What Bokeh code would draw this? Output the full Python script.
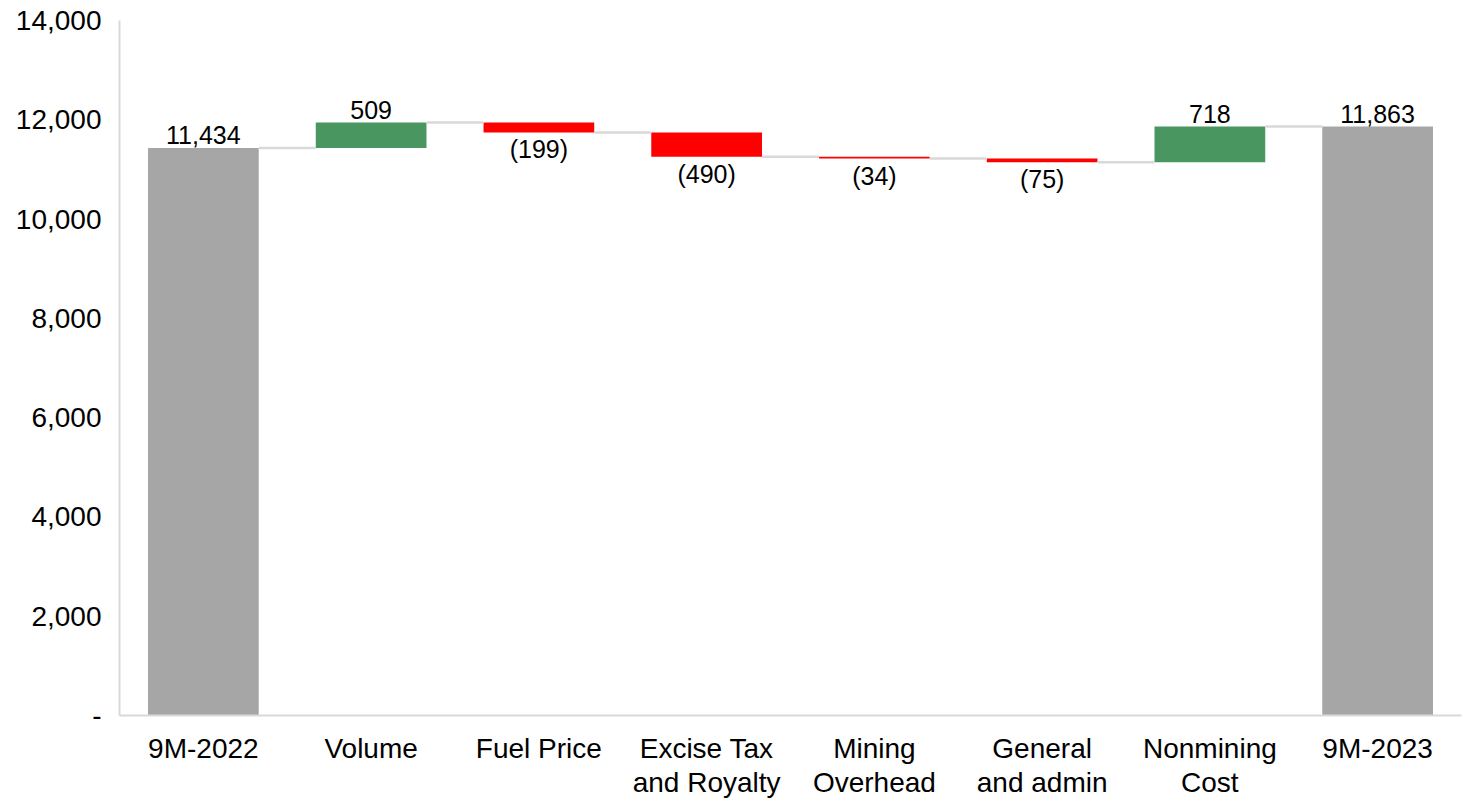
from bokeh.plotting import figure
from bokeh.models import Range1d, FixedTicker, NumeralTickFormatter, ColumnDataSource
from bokeh.core.properties import value
from bokeh.embed import file_html
from bokeh.resources import INLINE

categories = ["9M-2022", "Volume", "Fuel Price", "Excise Tax\nand Royalty",
              "Mining\nOverhead", "General\nand admin", "Nonmining\nCost", "9M-2023"]
values = [11434, 509, -199, -490, -34, -75, 718, 11863]
is_total = [True, False, False, False, False, False, False, True]
y_ticks = [0, 2000, 4000, 6000, 8000, 10000, 12000, 14000]

FONT = "Liberation Sans"
GREY = "#a6a6a6"
GREEN = "#4a9660"
RED = "#ff0000"
LINE = "#d9d9d9"
BW = 0.66

xs, bottoms, tops, colors, labels = [], [], [], [], []
run = 0
ends = []
for i, (v, t) in enumerate(zip(values, is_total)):
    if t:
        b, tp = 0, v
        run = v
        c = GREY
    else:
        b, tp = (run, run + v) if v >= 0 else (run + v, run)
        run = run + v
        c = GREEN if v >= 0 else RED
    xs.append(i)
    bottoms.append(b)
    tops.append(tp)
    colors.append(c)
    labels.append(f"{v:,}" if v >= 0 else f"({abs(v):,})")
    ends.append(run)

p = figure(width=1465, height=800, output_backend="svg", toolbar_location=None,
           x_range=Range1d(-0.5, 7.5), y_range=Range1d(0, 14000),
           min_border_left=119, min_border_right=4, min_border_top=20, min_border_bottom=85)
p.outline_line_color = None
p.xgrid.visible = False
p.ygrid.visible = False

src = ColumnDataSource(dict(x=xs, bottom=bottoms, top=tops, color=colors))
p.vbar(x="x", bottom="bottom", top="top", width=BW, fill_color="color", line_color=None, source=src)

# connectors
cx0 = [i + BW / 2 for i in xs[:-1]]
cx1 = [i + 1 - BW / 2 for i in xs[:-1]]
p.segment(x0=cx0, x1=cx1, y0=ends[:-1], y1=ends[:-1], line_color=LINE, line_width=2.5)

# labels
up_x, up_y, up_t, dn_x, dn_y, dn_t = [], [], [], [], [], []
for i, v in enumerate(values):
    if v >= 0:
        up_x.append(i); up_y.append(tops[i]); up_t.append(labels[i])
    else:
        dn_x.append(i); dn_y.append(bottoms[i]); dn_t.append(labels[i])
p.text(x=up_x, y=up_y, text=up_t, text_align="center", text_baseline="bottom", y_offset=-4,
       text_font=value(FONT), text_font_size="25px", text_color="#000000")
p.text(x=dn_x, y=dn_y, text=dn_t, text_align="center", text_baseline="top", y_offset=3,
       text_font=value(FONT), text_font_size="25px", text_color="#000000")

p.xaxis.ticker = FixedTicker(ticks=xs)
p.xaxis.major_label_overrides = {i: c for i, c in enumerate(categories)}
p.yaxis.ticker = FixedTicker(ticks=y_ticks)
p.yaxis.formatter = NumeralTickFormatter(format="0,0")
p.yaxis.major_label_overrides = {0: "-"}

for ax in (p.xaxis[0], p.yaxis[0]):
    ax.axis_line_color = LINE
    ax.axis_line_width = 2
    ax.major_tick_line_color = None
    ax.minor_tick_line_color = None
    ax.major_tick_out = 0
    ax.major_tick_in = 0
    ax.major_label_text_font = FONT
    ax.major_label_text_color = "#000000"
p.xaxis.major_label_text_font_size = "28px"
p.xaxis.major_label_text_line_height = 1.1
p.yaxis.major_label_text_font_size = "28px"
p.xaxis.major_label_standoff = 17
p.yaxis.major_label_standoff = 18

open("out.html", "w").write(file_html(p, INLINE))
